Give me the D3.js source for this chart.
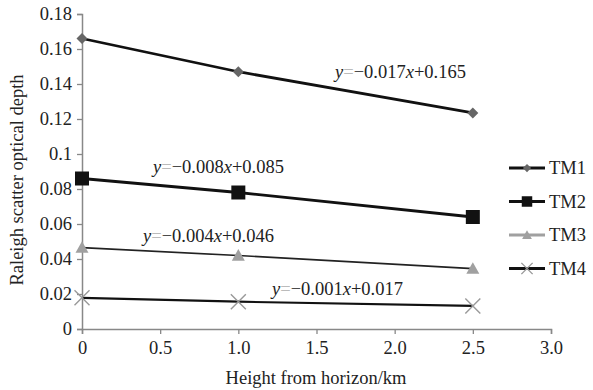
<!DOCTYPE html>
<html>
<head>
<meta charset="utf-8">
<script src="https://cdn.jsdelivr.net/npm/d3@7"></script>
<style>
  body { margin: 0; background: #fff; }
  text { font-family: "Liberation Serif", "Times New Roman", serif; }
</style>
</head>
<body>
<svg id="chart" width="593" height="390"></svg>
<script>
// 数据
const heights = [0, 1.0, 2.5];
const seriesNames = ["TM1", "TM2", "TM3", "TM4"];
const tm1 = [0.166, 0.147, 0.1235];
const tm2 = [0.086, 0.078, 0.064];
const tm3 = [0.0465, 0.042, 0.0345];
const tm4 = [0.0178, 0.0156, 0.0132];
const equations = [
    {k: "−0.017", b: "+0.165"},
    {k: "−0.008", b: "+0.085"},
    {k: "−0.004", b: "+0.046"},
    {k: "−0.001", b: "+0.017"}
];
const xTicks = [0, 0.5, 1.0, 1.5, 2.0, 2.5, 3.0];
const yTicks = [0, 0.02, 0.04, 0.06, 0.08, 0.1, 0.12, 0.14, 0.16, 0.18];

const allSeries = [tm1, tm2, tm3, tm4];

// 样式
const styles = [
    {line: "#111", width: 2.8, marker: "diamond", fill: "#666", size: 5.5},
    {line: "#111", width: 2.8, marker: "square", fill: "#111", size: 7},
    {line: "#222", width: 1.7, marker: "triangle", fill: "#a0a0a0", size: 6.5},
    {line: "#111", width: 2.2, marker: "x", fill: "#999", size: 7.5}
];
// 公式位置
const eqPos = [[335, 78], [153, 173], [143, 242], [272, 295]];

const svg = d3.select("#chart");

const x = d3.scaleLinear().domain([0, 3]).range([82, 551]);
const y = d3.scaleLinear().domain([0, 0.18]).range([329, 14]);

const axisColor = "#888";
const fs = 18.5;

// y轴
const yAxis = svg.append("g")
    .attr("transform", `translate(${x(0)},0)`)
    .call(d3.axisLeft(y).tickValues(yTicks).tickSize(5).tickPadding(5)
        .tickFormat(d => d === 0 ? "0" : (d === 0.1 ? "0.1" : d3.format(".2f")(d))));
yAxis.selectAll("text").attr("font-size", fs).attr("fill", "#222")
    .style("font-family", "'Liberation Serif', serif");

// x轴
const xAxis = svg.append("g")
    .attr("transform", `translate(0,${y(0)})`)
    .call(d3.axisBottom(x).tickValues(xTicks).tickSize(5).tickPadding(7)
        .tickFormat(d => d === 0 ? "0" : d3.format(".1f")(d)));
xAxis.selectAll("text").attr("font-size", fs).attr("fill", "#222")
    .style("font-family", "'Liberation Serif', serif");

svg.selectAll(".domain").attr("stroke", axisColor).attr("stroke-width", 1.5);
svg.selectAll(".tick line").attr("stroke", axisColor).attr("stroke-width", 1.3);

// 轴标题
svg.append("text")
    .text("Height from horizon/km")
    .attr("x", 316)
    .attr("y", 384)
    .attr("text-anchor", "middle")
    .attr("font-size", fs)
    .attr("fill", "#222");

svg.append("text")
    .text("Raleigh scatter optical depth")
    .attr("transform", "translate(23,180) rotate(-90)")
    .attr("text-anchor", "middle")
    .attr("font-size", fs)
    .attr("fill", "#222");

// 标记生成函数
function markerPath(type, s) {
    if (type === "diamond") return `M0,${-s}L${s},0L0,${s}L${-s},0Z`;
    if (type === "square") return `M${-s},${-s}H${s}V${s}H${-s}Z`;
    if (type === "triangle") return `M0,${-s}L${s},${s * 0.8}L${-s},${s * 0.8}Z`;
    return `M${-s},${-s}L${s},${s}M${s},${-s}L${-s},${s}`;
}

function drawMarker(g, st, cx, cy, scale) {
    const s = st.size * scale;
    const p = g.append("path")
        .attr("d", markerPath(st.marker, s))
        .attr("transform", `translate(${cx},${cy})`);
    if (st.marker === "x") {
        p.attr("fill", "none").attr("stroke", st.fill).attr("stroke-width", 1.4);
    } else {
        p.attr("fill", st.fill).attr("stroke", "none");
    }
}

const line = d3.line()
    .x((d, i) => x(heights[i]))
    .y(d => y(d));

allSeries.forEach(function (vals, k) {
    const st = styles[k];
    const g = svg.append("g").attr("class", "series");
    g.append("path")
        .datum(vals)
        .attr("d", line)
        .attr("fill", "none")
        .attr("stroke", st.line)
        .attr("stroke-width", st.width);
    vals.forEach(function (v, i) {
        drawMarker(g, st, x(heights[i]), y(v), 1);
    });
});

// 公式文本
equations.forEach(function (eq, k) {
    const t = svg.append("text")
        .attr("x", eqPos[k][0])
        .attr("y", eqPos[k][1])
        .attr("font-size", fs)
        .attr("fill", "#222");
    t.append("tspan").attr("font-style", "italic").text("y");
    t.append("tspan").attr("fill", "#bbb").text("=");
    t.append("tspan").text(eq.k);
    t.append("tspan").attr("font-style", "italic").text("x");
    t.append("tspan").text(eq.b);
});

// 图例
const legend = svg.append("g").attr("class", "legend");
seriesNames.forEach(function (name, k) {
    const st = styles[k];
    const ly = 168 + k * 33.5;
    legend.append("line")
        .attr("x1", 509).attr("x2", 545)
        .attr("y1", ly).attr("y2", ly)
        .attr("stroke", k === 2 ? "#a0a0a0" : "#111")
        .attr("stroke-width", 3);
    drawMarker(legend, st, 527, ly, 0.75);
    legend.append("text")
        .text(name)
        .attr("x", 549)
        .attr("y", ly + 6)
        .attr("font-size", fs)
        .attr("fill", "#222");
});
</script>
</body>
</html>
